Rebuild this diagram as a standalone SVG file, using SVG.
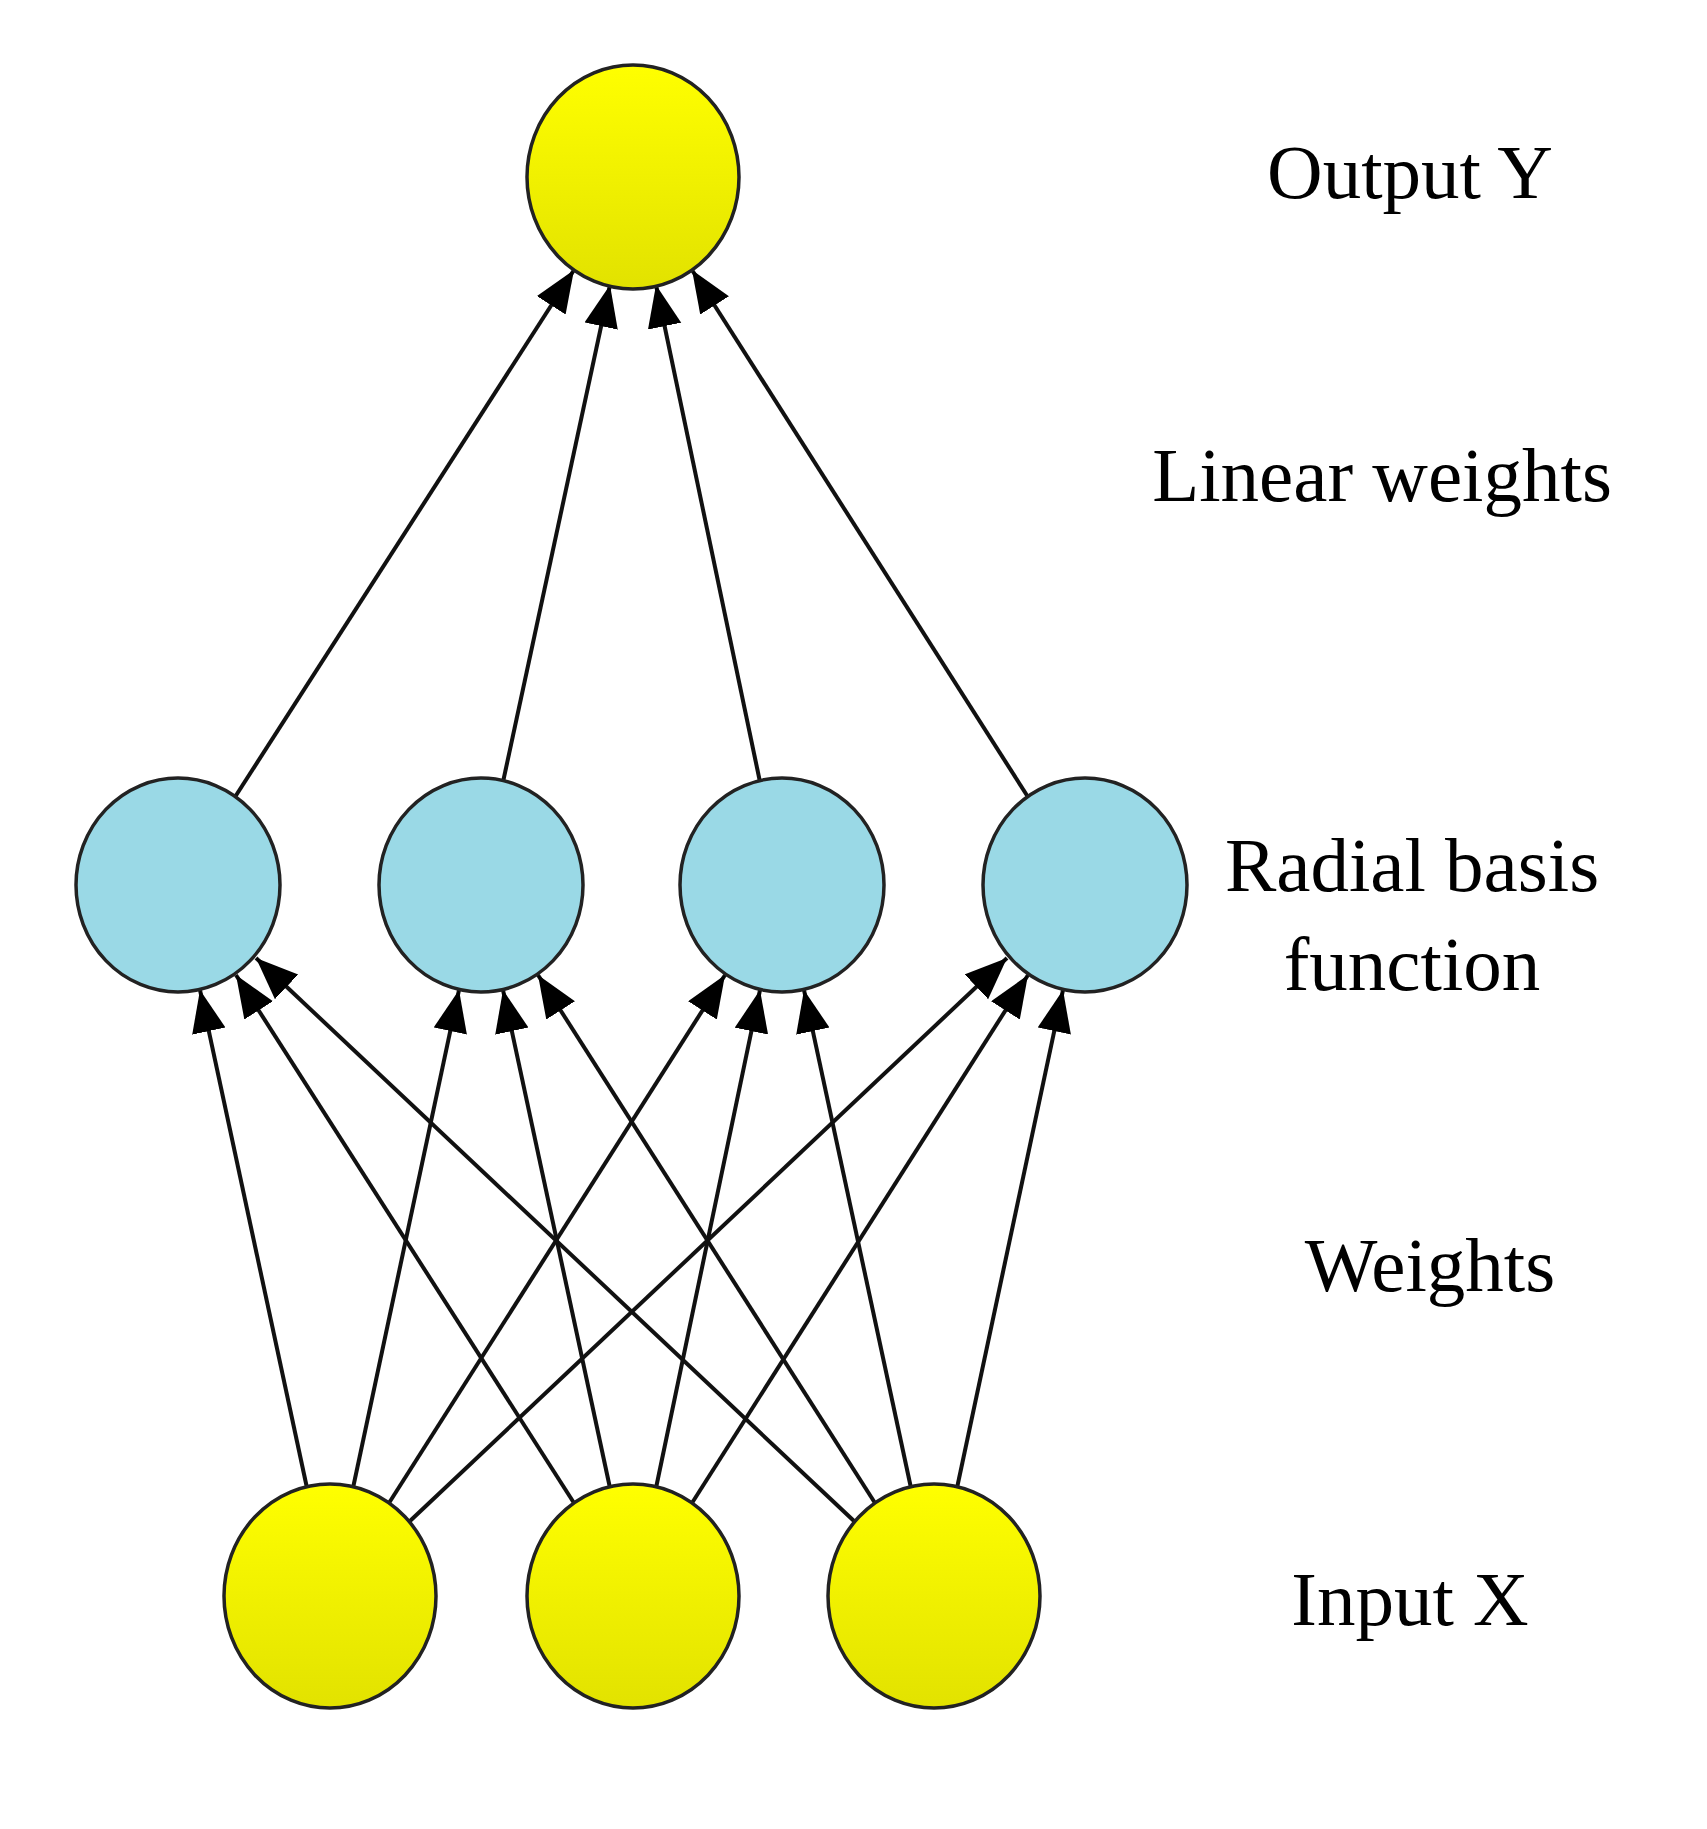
<svg xmlns="http://www.w3.org/2000/svg" width="1707" height="1829" viewBox="0 0 1707 1829">
<style>
.y{fill:url(#gy);stroke:#222;stroke-width:3.5}
.b{fill:#9ad9e6;stroke:#222;stroke-width:3.5}
.e line{stroke:#111;stroke-width:4;marker-end:url(#ah)}
text{font-family:"Liberation Serif","Times New Roman",serif;font-size:77px;fill:#000;text-anchor:middle}
</style>
<defs>
<linearGradient id="gy" x1="0" y1="0" x2="0" y2="1"><stop offset="0" stop-color="#ffff00"/><stop offset="1" stop-color="#e2e200"/></linearGradient>
<marker id="ah" markerUnits="userSpaceOnUse" markerWidth="44" markerHeight="36" refX="42" refY="17" orient="auto"><path d="M0,0 L42,17 L0,34 Z" fill="#000"/></marker>
</defs>
<g id="edges" class="e">
<line x1="307" y1="1488" x2="200" y2="990"/>
<line x1="353" y1="1488" x2="459" y2="990"/>
<line x1="389" y1="1503" x2="725" y2="975"/>
<line x1="410" y1="1521" x2="1007" y2="958"/>
<line x1="574" y1="1503" x2="236" y2="975"/>
<line x1="610" y1="1488" x2="503" y2="990"/>
<line x1="656" y1="1488" x2="760" y2="990"/>
<line x1="692" y1="1503" x2="1028" y2="975"/>
<line x1="854" y1="1521" x2="256" y2="958"/>
<line x1="875" y1="1503" x2="538" y2="975"/>
<line x1="911" y1="1488" x2="804" y2="990"/>
<line x1="957" y1="1488" x2="1063" y2="990"/>
<line x1="235" y1="797" x2="574" y2="270"/>
<line x1="503" y1="782" x2="610" y2="285"/>
<line x1="760" y1="782" x2="656" y2="285"/>
<line x1="1028" y1="797" x2="692" y2="270"/>
</g>
<g id="output"><ellipse class="y" cx="633" cy="177" rx="106" ry="112"/></g>
<g id="rbf1"><ellipse class="b" cx="178" cy="885" rx="102" ry="107"/></g>
<g id="rbf2"><ellipse class="b" cx="481" cy="885" rx="102" ry="107"/></g>
<g id="rbf3"><ellipse class="b" cx="782" cy="885" rx="102" ry="107"/></g>
<g id="rbf4"><ellipse class="b" cx="1085" cy="885" rx="102" ry="107"/></g>
<g id="in1"><ellipse class="y" cx="330" cy="1596" rx="106" ry="112"/></g>
<g id="in2"><ellipse class="y" cx="633" cy="1596" rx="106" ry="112"/></g>
<g id="in3"><ellipse class="y" cx="934" cy="1596" rx="106" ry="112"/></g>
<g id="labels">
<text x="1410" y="198">Output Y</text>
<text x="1382" y="501">Linear weights</text>
<text x="1412" y="891">Radial basis</text>
<text x="1412" y="990">function</text>
<text x="1430" y="1291">Weights</text>
<text x="1410" y="1625">Input X</text>
</g>
</svg>
